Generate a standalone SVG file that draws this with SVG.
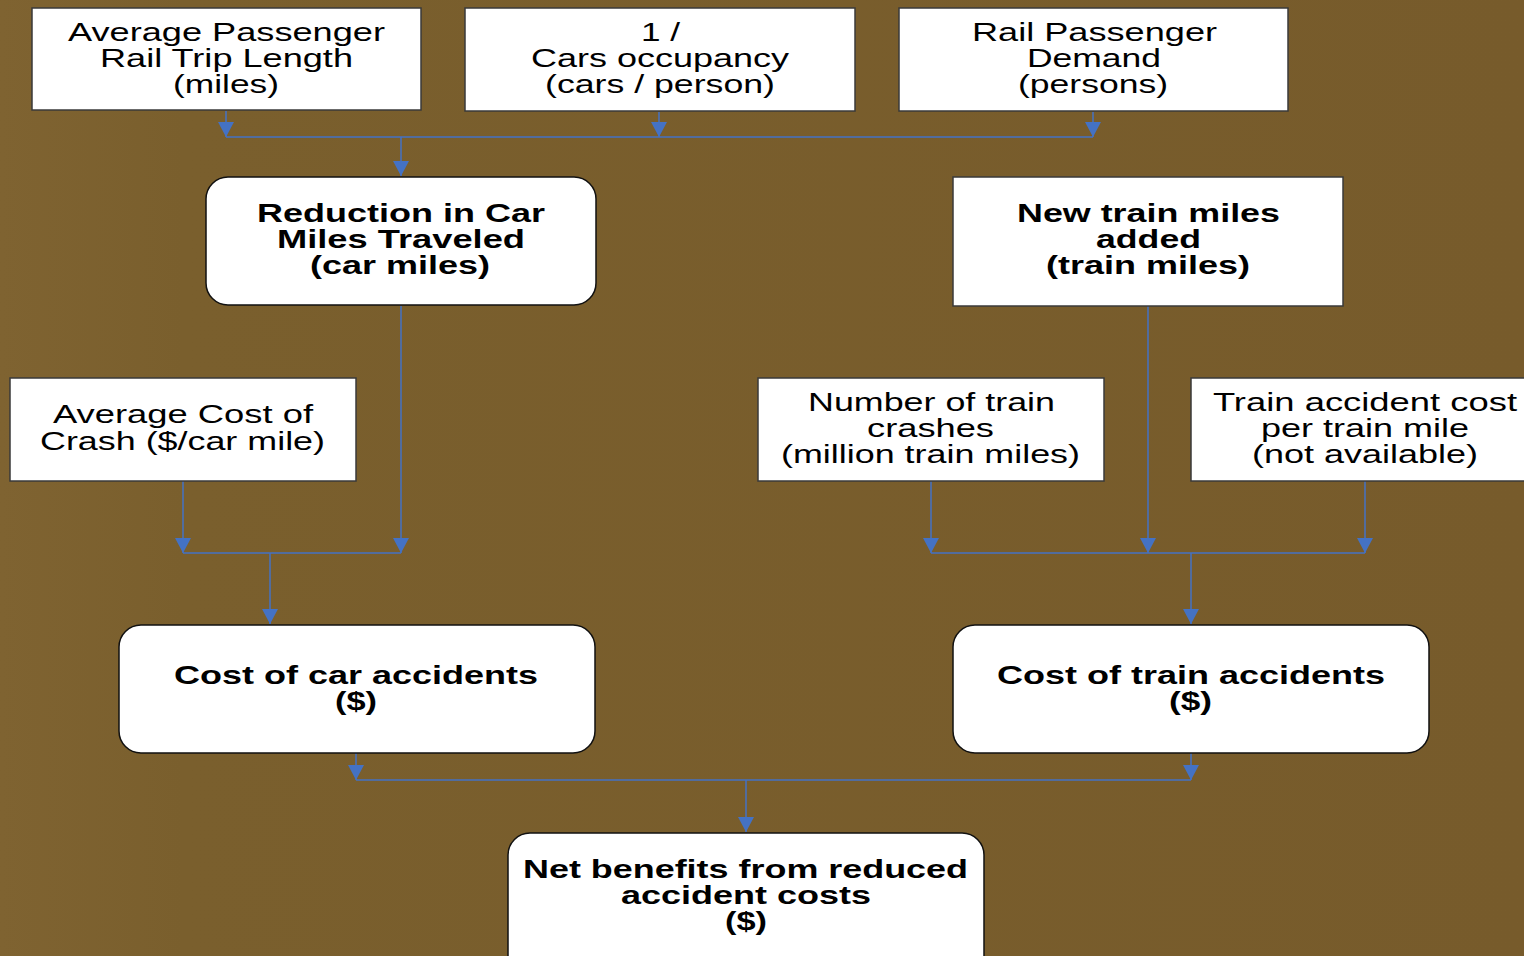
<svg xmlns="http://www.w3.org/2000/svg" width="1524" height="956" viewBox="0 0 1524 956">
<defs>
<linearGradient id="bg" x1="0" y1="0" x2="1" y2="0">
<stop offset="0" stop-color="#7f6331"/>
<stop offset="0.12" stop-color="#7a5f2d"/>
<stop offset="1" stop-color="#775b2b"/>
</linearGradient>
<marker id="arr" viewBox="0 0 15 16" refX="15" refY="8" markerWidth="15" markerHeight="16" markerUnits="userSpaceOnUse" orient="auto">
<path d="M0,0 L15,8 L0,16 Z" fill="#4472c4"/>
</marker>
<style>
.box{fill:#ffffff;stroke:#3a3a3a;stroke-width:1.5}
.rbox{fill:#ffffff;stroke:#111111;stroke-width:1.5}
.t{font-family:"Liberation Sans",Arial,sans-serif;font-size:25px;fill:#000;text-anchor:start}
.b{font-weight:bold}
.c{fill:none;stroke:#4472c4;stroke-width:1.5}
.a{fill:none;stroke:#4472c4;stroke-width:1.5;marker-end:url(#arr)}
</style>
</defs>
<rect x="0" y="0" width="1524" height="956" fill="url(#bg)"/>
<g id="connectors">
<path class="a" d="M226,111 V137"/>
<path class="a" d="M659,112 V137"/>
<path class="a" d="M1093,112 V137"/>
<path class="c" d="M226,137 H1093"/>
<path class="a" d="M401,137 V176"/>
<path class="a" d="M183,481 V553"/>
<path class="a" d="M401,306 V553"/>
<path class="c" d="M183,553 H401"/>
<path class="a" d="M270,553 V624"/>
<path class="a" d="M931,481 V553"/>
<path class="a" d="M1148,306 V553"/>
<path class="a" d="M1365,481 V553"/>
<path class="c" d="M931,553 H1365"/>
<path class="a" d="M1191,553 V624"/>
<path class="a" d="M356,753 V780"/>
<path class="a" d="M1191,753 V780"/>
<path class="c" d="M356,780 H1191"/>
<path class="a" d="M746,780 V832"/>
</g>
<g id="avg-trip-length">
<rect class="box" x="32" y="8" width="389" height="102"/>
<text class="t" x="68" y="41" textLength="317" lengthAdjust="spacingAndGlyphs">Average Passenger</text>
<text class="t" x="100" y="67" textLength="253" lengthAdjust="spacingAndGlyphs">Rail Trip Length</text>
<text class="t" x="173" y="93" textLength="106" lengthAdjust="spacingAndGlyphs">(miles)</text>
</g>
<g id="cars-occupancy">
<rect class="box" x="465" y="8" width="390" height="103"/>
<text class="t" x="641" y="41" textLength="39" lengthAdjust="spacingAndGlyphs">1 /</text>
<text class="t" x="531" y="67" textLength="258" lengthAdjust="spacingAndGlyphs">Cars occupancy</text>
<text class="t" x="545" y="93" textLength="230" lengthAdjust="spacingAndGlyphs">(cars / person)</text>
</g>
<g id="rail-demand">
<rect class="box" x="899" y="8" width="389" height="103"/>
<text class="t" x="972" y="41" textLength="245" lengthAdjust="spacingAndGlyphs">Rail Passenger</text>
<text class="t" x="1027" y="67" textLength="134" lengthAdjust="spacingAndGlyphs">Demand</text>
<text class="t" x="1018" y="93" textLength="150" lengthAdjust="spacingAndGlyphs">(persons)</text>
</g>
<g id="reduction-car-miles">
<rect class="rbox" x="206" y="177" width="390" height="128" rx="22"/>
<text class="t b" x="257" y="222" textLength="288" lengthAdjust="spacingAndGlyphs">Reduction in Car</text>
<text class="t b" x="277" y="248" textLength="248" lengthAdjust="spacingAndGlyphs">Miles Traveled</text>
<text class="t b" x="310" y="274" textLength="180" lengthAdjust="spacingAndGlyphs">(car miles)</text>
</g>
<g id="new-train-miles">
<rect class="box" x="953" y="177" width="390" height="129"/>
<text class="t b" x="1017" y="222" textLength="263" lengthAdjust="spacingAndGlyphs">New train miles</text>
<text class="t b" x="1096" y="248" textLength="105" lengthAdjust="spacingAndGlyphs">added</text>
<text class="t b" x="1046" y="274" textLength="204" lengthAdjust="spacingAndGlyphs">(train miles)</text>
</g>
<g id="avg-cost-crash">
<rect class="box" x="10" y="378" width="346" height="103"/>
<text class="t" x="53" y="423" textLength="260" lengthAdjust="spacingAndGlyphs">Average Cost of</text>
<text class="t" x="40" y="450" textLength="285" lengthAdjust="spacingAndGlyphs">Crash ($/car mile)</text>
</g>
<g id="train-crashes">
<rect class="box" x="758" y="378" width="346" height="103"/>
<text class="t" x="808" y="411" textLength="247" lengthAdjust="spacingAndGlyphs">Number of train</text>
<text class="t" x="867" y="437" textLength="127" lengthAdjust="spacingAndGlyphs">crashes</text>
<text class="t" x="781" y="463" textLength="299" lengthAdjust="spacingAndGlyphs">(million train miles)</text>
</g>
<g id="train-accident-cost">
<rect class="box" x="1191" y="378" width="340" height="103"/>
<text class="t" x="1213" y="411" textLength="304" lengthAdjust="spacingAndGlyphs">Train accident cost</text>
<text class="t" x="1261" y="437" textLength="208" lengthAdjust="spacingAndGlyphs">per train mile</text>
<text class="t" x="1252" y="463" textLength="226" lengthAdjust="spacingAndGlyphs">(not available)</text>
</g>
<g id="cost-car-accidents">
<rect class="rbox" x="119" y="625" width="476" height="128" rx="22"/>
<text class="t b" x="174" y="684" textLength="364" lengthAdjust="spacingAndGlyphs">Cost of car accidents</text>
<text class="t b" x="335" y="710" textLength="42" lengthAdjust="spacingAndGlyphs">($)</text>
</g>
<g id="cost-train-accidents">
<rect class="rbox" x="953" y="625" width="476" height="128" rx="22"/>
<text class="t b" x="997" y="684" textLength="388" lengthAdjust="spacingAndGlyphs">Cost of train accidents</text>
<text class="t b" x="1169" y="710" textLength="43" lengthAdjust="spacingAndGlyphs">($)</text>
</g>
<g id="net-benefits">
<rect class="rbox" x="508" y="833" width="476" height="150" rx="22"/>
<text class="t b" x="523" y="878" textLength="445" lengthAdjust="spacingAndGlyphs">Net benefits from reduced</text>
<text class="t b" x="621" y="904" textLength="250" lengthAdjust="spacingAndGlyphs">accident costs</text>
<text class="t b" x="725" y="930" textLength="42" lengthAdjust="spacingAndGlyphs">($)</text>
</g>
</svg>
